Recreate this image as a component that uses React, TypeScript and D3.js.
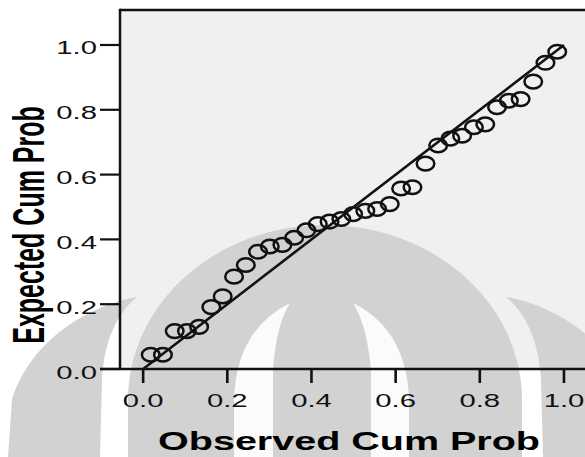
import { useEffect, useRef } from 'react';
import * as d3 from 'd3';

// P-P plot values
const observed = [
  0.018, 0.047, 0.075, 0.104, 0.133, 0.162, 0.189, 0.216, 0.244, 0.273,
  0.301, 0.331, 0.359, 0.388, 0.415, 0.443, 0.471, 0.499, 0.528, 0.556,
  0.586, 0.613, 0.640, 0.671, 0.701, 0.730, 0.758, 0.786, 0.813, 0.841,
  0.869, 0.897, 0.927, 0.956, 0.984,
];
const expected = [
  0.044, 0.044, 0.117, 0.117, 0.130, 0.191, 0.224, 0.285, 0.321, 0.362,
  0.378, 0.383, 0.405, 0.428, 0.447, 0.455, 0.463, 0.478, 0.488, 0.494,
  0.509, 0.557, 0.561, 0.634, 0.690, 0.711, 0.720, 0.746, 0.755, 0.808,
  0.828, 0.833, 0.887, 0.945, 0.979,
];
const xTicks = [0, 0.2, 0.4, 0.6, 0.8, 1.0];
const yTicks = [0, 0.2, 0.4, 0.6, 0.8, 1.0];
const xTitle = 'Observed Cum Prob';
const yTitle = 'Expected Cum Prob';

const FONT = '"Liberation Sans", Arial, sans-serif';

export default function App() {
  const svgRef = useRef<SVGSVGElement>(null);

  useEffect(() => {
    const svg = d3.select(svgRef.current);
    svg.selectAll('*').remove();

    const width = 585;
    const height = 457;
    const margin = { top: 10, left: 120, bottom: 88 };
    const axisY = height - margin.bottom;
    const stretch = 1.58; // text in the source is stretched sideways

    const x = d3.scaleLinear().domain([-0.055, 1.05]).range([margin.left, width]);
    const y = d3.scaleLinear().domain([0, 1.108]).range([axisY, margin.top]);
    const fmt = d3.format('.1f');

    // plot background
    svg.append('rect')
      .attr('x', margin.left)
      .attr('y', margin.top)
      .attr('width', width - margin.left)
      .attr('height', axisY - margin.top)
      .attr('fill', '#f0f0f0');

    // faint logo watermark behind the chart
    const wm = svg.append('g');
    const gray = '#d2d2d2';
    wm.append('path')
      .attr('d', 'M128,457 L128,400 A197,175 0 0 1 522,400 L522,457 Z')
      .attr('fill', gray);
    wm.append('path')
      .attr('d', 'M137,297 C90,305 30,340 12,400 L8,457 L100,457 L102,380 C104,340 118,312 137,297 Z')
      .attr('fill', gray);
    wm.append('path')
      .attr('d', 'M506,297 C553,305 613,340 631,400 L635,457 L543,457 L541,380 C539,340 525,312 506,297 Z')
      .attr('fill', gray);
    wm.append('path')
      .attr('d', 'M290,303 Q236,330 234,400 L234,457 L273,457 L273,370 Q276,325 290,303 Z')
      .attr('fill', '#fbfbfb');
    wm.append('path')
      .attr('d', 'M353,303 Q407,330 409,400 L409,457 L371,457 L371,370 Q367,325 353,303 Z')
      .attr('fill', '#fbfbfb');

    // reference diagonal
    svg.append('line')
      .attr('x1', x(0)).attr('y1', y(0))
      .attr('x2', x(1)).attr('y2', y(1))
      .attr('stroke', '#111')
      .attr('stroke-width', 2.6);

    // points
    const points = observed.map((o, i) => ({ o, e: expected[i] }));
    svg.append('g')
      .selectAll('ellipse')
      .data(points)
      .join('ellipse')
      .attr('cx', d => x(d.o))
      .attr('cy', d => y(d.e))
      .attr('rx', 8.8)
      .attr('ry', 6.8)
      .attr('fill', 'none')
      .attr('stroke', '#111')
      .attr('stroke-width', 2.5);

    // frame / axes
    const axes = svg.append('g').attr('stroke', '#111');
    axes.append('line')
      .attr('x1', margin.left).attr('y1', margin.top)
      .attr('x2', width).attr('y2', margin.top)
      .attr('stroke-width', 2.5);
    axes.append('line')
      .attr('x1', margin.left).attr('y1', margin.top - 1.25)
      .attr('x2', margin.left).attr('y2', axisY)
      .attr('stroke-width', 2.5);
    axes.append('line')
      .attr('x1', margin.left - 20).attr('y1', axisY)
      .attr('x2', width).attr('y2', axisY)
      .attr('stroke-width', 2.5);

    axes.selectAll('.ytick')
      .data(yTicks)
      .join('line')
      .attr('class', 'ytick')
      .attr('x1', margin.left - 20).attr('x2', margin.left)
      .attr('y1', d => y(d)).attr('y2', d => y(d))
      .attr('stroke-width', 2.2);

    axes.selectAll('.xtick')
      .data(xTicks)
      .join('line')
      .attr('class', 'xtick')
      .attr('x1', d => x(d)).attr('x2', d => x(d))
      .attr('y1', axisY).attr('y2', axisY + 14)
      .attr('stroke-width', 2.6);

    // tick labels
    svg.append('g')
      .selectAll('text')
      .data(yTicks)
      .join('text')
      .attr('transform', d => `translate(${margin.left - 23},${y(d) + 9.5}) scale(${stretch},1)`)
      .attr('text-anchor', 'end')
      .attr('font-family', FONT)
      .attr('font-size', 18.5)
      .attr('fill', '#111')
      .text(d => fmt(d));

    svg.append('g')
      .selectAll('text')
      .data(xTicks)
      .join('text')
      .attr('transform', d => `translate(${x(d)},${axisY + 38}) scale(${stretch},1)`)
      .attr('text-anchor', 'middle')
      .attr('font-family', FONT)
      .attr('font-size', 18.5)
      .attr('fill', '#111')
      .text(d => fmt(d));

    // axis titles
    svg.append('text')
      .attr('transform', `translate(349,450) scale(${stretch},1)`)
      .attr('text-anchor', 'middle')
      .attr('font-family', FONT)
      .attr('font-weight', 'bold')
      .attr('font-size', 25)
      .attr('fill', '#000')
      .text(xTitle);

    svg.append('text')
      .attr('transform', `translate(44,225) scale(1.75,1) rotate(-90)`)
      .attr('text-anchor', 'middle')
      .attr('font-family', FONT)
      .attr('font-weight', 'bold')
      .attr('font-size', 25)
      .attr('fill', '#000')
      .text(yTitle);
  }, []);

  return (
    <svg
      ref={svgRef}
      width={585}
      height={457}
      style={{ position: 'absolute', left: 0, top: 0, background: '#fff' }}
    />
  );
}
